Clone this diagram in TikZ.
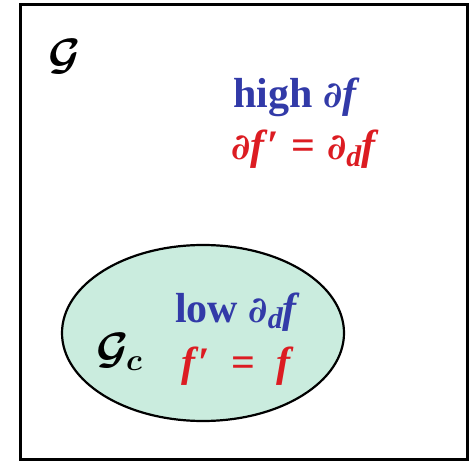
\RequirePackage{fix-cm}
\documentclass[tikz,border=0pt]{standalone}
\usepackage{fontspec}
\setmainfont{Liberation Serif}
\newfontfamily\pdfont{DejaVu Serif}
\usetikzlibrary{positioning,shapes.geometric}
\definecolor{highblue}{RGB}{50,58,168}
\definecolor{eqred}{RGB}{220,28,34}
\definecolor{mint}{RGB}{202,236,222}
\newcommand{\ff}{\textit{f}}
\newcommand{\pd}{{\pdfont\itshape\fontsize{36}{38}\selectfont ∂}}
\newcommand{\subd}{\raisebox{-0.35ex}{\fontsize{30}{30}\selectfont\itshape d}}
\newcommand{\eqs}[1]{\hspace{#1}=\hspace{#1}}

\begin{document}
\begin{tikzpicture}[
  x=1pt,y=-1pt,
  box/.style={draw,line width=3.4pt,minimum width=447pt,minimum height=455pt,inner sep=0pt},
  region/.style={draw,ellipse,line width=2.2pt,fill=mint,minimum width=282pt,minimum height=176pt,inner sep=0pt},
  word/.style={font=\bfseries\fontsize{42}{44}\selectfont,inner sep=0pt,anchor=base west},
  setlabel/.style={font=\boldmath\fontsize{44}{46}\selectfont,inner sep=0pt}
]
  \useasboundingbox (0,0) rectangle (471,462);
  \node[box] (G) at (244,232) {};
  \node[region] (Gc) at (203,333) {};

  \node[setlabel] (Gname) at (65,57) {$\mathcal{G}$};
  \node[setlabel,anchor=west] (Gcname) at (96,352) {$\mathcal{G}_c$};

  \node[word,text=highblue] (high) at (233,108) {high \pd\ff};
  \node[word,text=eqred] (hieq) at (231,160) {\pd\ff′\eqs{0.28em}\pd\subd\ff};
  \node[word,text=highblue] (low) at (175,322) {low \pd\subd\ff};
  \node[word,text=eqred] (loeq) at (181,376) {\ff′\eqs{0.5em}\ff};
\end{tikzpicture}
\end{document}
